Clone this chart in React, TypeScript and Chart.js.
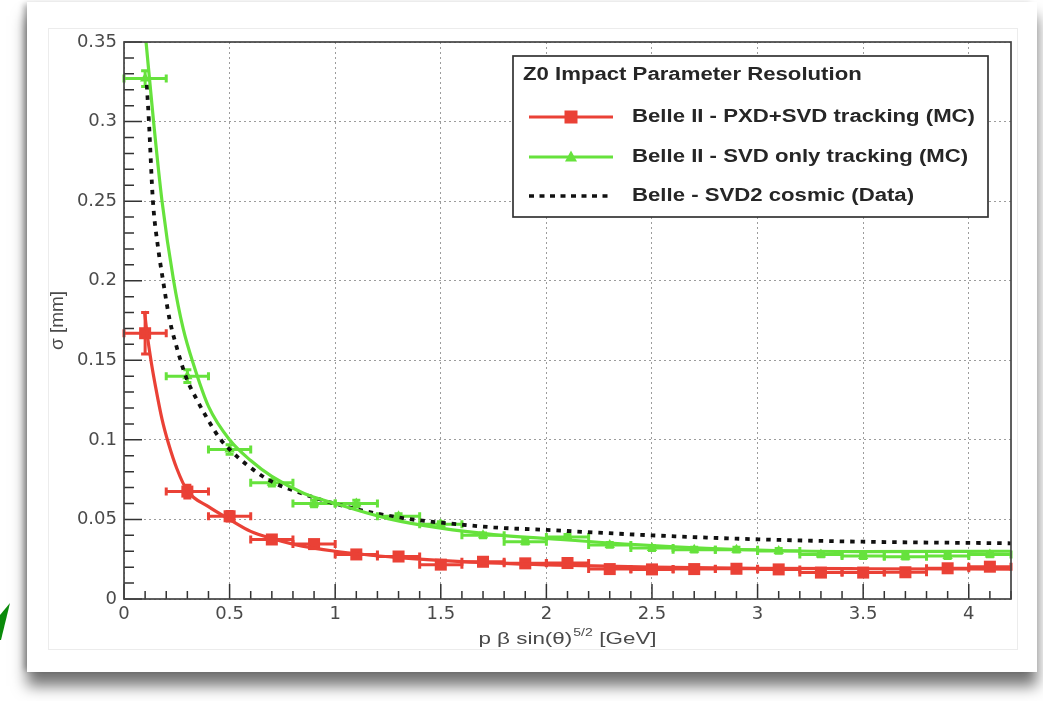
import React, { useEffect, useRef } from "react";
import { Chart, registerables } from "chart.js";

Chart.register(...registerables);

// ---------- data ----------
const binCenters = [0.1, 0.3, 0.5, 0.7, 0.9, 1.1, 1.3, 1.5, 1.7, 1.9, 2.1, 2.3, 2.5, 2.7, 2.9, 3.1, 3.3, 3.5, 3.7, 3.9, 4.1];
const binHalfWidths = [0.1, 0.1, 0.1, 0.1, 0.1, 0.1, 0.1, 0.1, 0.1, 0.1, 0.1, 0.1, 0.1, 0.1, 0.1, 0.1, 0.1, 0.1, 0.1, 0.1, 0.1];

const pxdSvdSigma = [0.167, 0.0675, 0.052, 0.0374, 0.0345, 0.028, 0.0267, 0.0216, 0.0234, 0.0224, 0.0226, 0.0188, 0.0186, 0.0188, 0.019, 0.0186, 0.0166, 0.0166, 0.0168, 0.0193, 0.0203];
const pxdSvdErr = [0.013, 0.004, 0.003, 0.002, 0.002, 0.0015, 0.0015, 0.0015, 0.0015, 0.0015, 0.0015, 0.0015, 0.0015, 0.0015, 0.0015, 0.0015, 0.0015, 0.0015, 0.0015, 0.0015, 0.0015];

const svdOnlySigma = [0.327, 0.14, 0.094, 0.073, 0.06, 0.06, 0.052, 0.047, 0.04, 0.036, 0.039, 0.034, 0.032, 0.031, 0.031, 0.0302, 0.028, 0.027, 0.0266, 0.027, 0.028];
const svdOnlyErr = [0.005, 0.004, 0.003, 0.002, 0.002, 0.002, 0.0015, 0.0015, 0.0015, 0.0015, 0.0015, 0.0015, 0.0015, 0.0015, 0.0015, 0.0015, 0.0015, 0.0015, 0.0015, 0.0015, 0.0015];

const pxdFitX = [0.097, 0.11, 0.13, 0.15, 0.18, 0.21, 0.25, 0.3, 0.4, 0.5, 0.6, 0.7, 0.8, 1.0, 1.3, 1.6, 2.0, 2.5, 3.0, 3.5, 4.2];
const pxdFitY = [0.181, 0.166, 0.148, 0.133, 0.113, 0.098, 0.082, 0.068, 0.058, 0.05, 0.0425, 0.038, 0.0345, 0.03, 0.026, 0.0235, 0.0215, 0.02, 0.0193, 0.019, 0.0188];

const svdFitX = [0.103, 0.14, 0.18, 0.235, 0.28, 0.33, 0.4, 0.5, 0.6, 0.7, 0.85, 1.0, 1.25, 1.5, 1.75, 2.0, 2.5, 3.0, 3.5, 4.2];
const svdFitY = [0.352, 0.3, 0.25, 0.2, 0.17, 0.147, 0.121, 0.1, 0.087, 0.077, 0.0665, 0.06, 0.0505, 0.0445, 0.0405, 0.038, 0.0336, 0.0308, 0.0298, 0.03];

const belleX = [0.108, 0.118, 0.137, 0.16, 0.184, 0.216, 0.25, 0.295, 0.35, 0.405, 0.45, 0.5, 0.58, 0.689, 0.85, 0.99, 1.15, 1.32, 1.5, 1.75, 2.0, 2.5, 3.0, 3.5, 4.2];
const belleY = [0.323, 0.3, 0.25, 0.222, 0.2008, 0.1756, 0.158, 0.139, 0.124, 0.111, 0.1015, 0.094, 0.0845, 0.0745, 0.066, 0.0602, 0.055, 0.0508, 0.048, 0.045, 0.0434, 0.04, 0.0375, 0.036, 0.035];

const xTickValues = [0, 0.5, 1, 1.5, 2, 2.5, 3, 3.5, 4];
const xTickLabels = ["0", "0.5", "1", "1.5", "2", "2.5", "3", "3.5", "4"];
const yTickValues = [0, 0.05, 0.1, 0.15, 0.2, 0.25, 0.3, 0.35];
const yTickLabels = ["0", "0.05", "0.1", "0.15", "0.2", "0.25", "0.3", "0.35"];

const legendTitle = "Z0 Impact Parameter Resolution";
const seriesNames = [
  "Belle II - PXD+SVD tracking (MC)",
  "Belle II - SVD only tracking (MC)",
  "Belle - SVD2 cosmic (Data)",
];
const yTitle = "σ [mm]";
const xTitleMain = "p β sin(θ)";
const xTitleSup = "5/2";
const xTitleTail = " [GeV]";

const X_MIN = 0, X_MAX = 4.2, Y_MIN = 0, Y_MAX = 0.35;

// ---------- styles ----------
const RED = "#ea4136";
const GREEN = "#66e23c";
const BLACK = "#111111";
const TEXT = "#4a4a4a";

const toPts = (xs: number[], ys: number[]) => xs.map((x, i) => ({ x, y: ys[i] }));

function stretchedText(ctx: CanvasRenderingContext2D, text: string, x: number, y: number, sx: number) {
  ctx.save();
  ctx.translate(x, y);
  ctx.scale(sx, 1);
  ctx.fillText(text, 0, 0);
  ctx.restore();
}

const decorPlugin = {
  id: "rootDecor",
  beforeDatasetsDraw(chart: any) {
    const { ctx } = chart;
    const xs = chart.scales.x, ys = chart.scales.y;
    chart.data.datasets.forEach((ds: any) => {
      if (!ds.errY) return;
      ctx.save();
      ctx.strokeStyle = ds.borderColor;
      ctx.lineWidth = 3;
      ds.data.forEach((p: any, i: number) => {
        const cx = xs.getPixelForValue(p.x);
        const cy = ys.getPixelForValue(p.y);
        const x1 = xs.getPixelForValue(p.x - ds.errX[i]);
        const x2 = xs.getPixelForValue(p.x + ds.errX[i]);
        const y1 = ys.getPixelForValue(p.y + ds.errY[i]);
        const y2 = ys.getPixelForValue(p.y - ds.errY[i]);
        ctx.beginPath();
        ctx.moveTo(x1, cy); ctx.lineTo(x2, cy);
        ctx.moveTo(x1, cy - 4); ctx.lineTo(x1, cy + 4);
        ctx.moveTo(x2, cy - 4); ctx.lineTo(x2, cy + 4);
        ctx.moveTo(cx, y1); ctx.lineTo(cx, y2);
        ctx.moveTo(cx - 4, y1); ctx.lineTo(cx + 4, y1);
        ctx.moveTo(cx - 4, y2); ctx.lineTo(cx + 4, y2);
        ctx.stroke();
      });
      ctx.restore();
    });
  },
  afterDraw(chart: any) {
    const { ctx, chartArea: ca } = chart;
    const xs = chart.scales.x, ys = chart.scales.y;
    ctx.save();
    // inward ticks
    ctx.strokeStyle = "#333";
    ctx.lineWidth = 1.5;
    ctx.beginPath();
    for (let k = 0; k <= Math.round((X_MAX - X_MIN) / 0.1); k++) {
      const v = X_MIN + k * 0.1;
      const px = xs.getPixelForValue(v);
      const major = k % 5 === 0;
      ctx.moveTo(px, ca.bottom);
      ctx.lineTo(px, ca.bottom - (major ? 15 : 8));
    }
    for (let k = 0; k <= Math.round((Y_MAX - Y_MIN) / 0.01); k++) {
      const v = Y_MIN + k * 0.01;
      const py = ys.getPixelForValue(v);
      const major = k % 5 === 0;
      ctx.moveTo(ca.left, py);
      ctx.lineTo(ca.left + (major ? 18 : 10), py);
    }
    ctx.stroke();
    // frame
    ctx.strokeStyle = "#444";
    ctx.lineWidth = 1.7;
    ctx.strokeRect(ca.left, ca.top, ca.right - ca.left, ca.bottom - ca.top);

    // x-axis title with superscript
    ctx.fillStyle = TEXT;
    ctx.textBaseline = "middle";
    ctx.textAlign = "left";
    const sx = 1.4;
    ctx.font = '16px "Liberation Sans", Arial, sans-serif';
    const w1 = ctx.measureText(xTitleMain).width;
    const w3 = ctx.measureText(xTitleTail).width;
    ctx.font = '10px "Liberation Sans", Arial, sans-serif';
    const w2 = ctx.measureText(xTitleSup).width + 1;
    const total = (w1 + w2 + w3) * sx;
    const cx = (ca.left + ca.right) / 2;
    const ty = ca.bottom + 41;
    let tx = cx - total / 2;
    ctx.font = '16px "Liberation Sans", Arial, sans-serif';
    stretchedText(ctx, xTitleMain, tx, ty, sx);
    tx += w1 * sx;
    ctx.font = '10px "Liberation Sans", Arial, sans-serif';
    stretchedText(ctx, xTitleSup, tx + 1, ty - 7, sx);
    tx += w2 * sx;
    ctx.font = '16px "Liberation Sans", Arial, sans-serif';
    stretchedText(ctx, xTitleTail, tx, ty, sx);

    // legend box
    const L = ca.left + 389, T = ca.top + 14, W = 475, H = 161;
    ctx.fillStyle = "#fff";
    ctx.fillRect(L, T, W, H);
    ctx.strokeStyle = "#333";
    ctx.lineWidth = 1.7;
    ctx.strokeRect(L, T, W, H);

    ctx.font = 'bold 18px "Liberation Sans", Arial, sans-serif';
    ctx.fillStyle = "#262626";
    const lsx = 343 / ctx.measureText(seriesNames[0]).width;
    stretchedText(ctx, legendTitle, L + 10, T + 19, lsx);
    const rowY = [T + 61, T + 101, T + 140];
    seriesNames.forEach((name, i) => stretchedText(ctx, name, L + 119, rowY[i], lsx));

    const s1 = L + 16, s2 = L + 100, sc = L + 58;
    // red sample
    ctx.lineWidth = 3.2;
    ctx.strokeStyle = RED;
    ctx.beginPath(); ctx.moveTo(s1, rowY[0]); ctx.lineTo(s2, rowY[0]); ctx.stroke();
    ctx.fillStyle = RED;
    ctx.fillRect(sc - 6.5, rowY[0] - 6.5, 13, 13);
    // green sample
    ctx.strokeStyle = GREEN;
    ctx.beginPath(); ctx.moveTo(s1, rowY[1]); ctx.lineTo(s2, rowY[1]); ctx.stroke();
    ctx.fillStyle = GREEN;
    ctx.beginPath();
    ctx.moveTo(sc, rowY[1] - 6.5); ctx.lineTo(sc + 6, rowY[1] + 4.5); ctx.lineTo(sc - 6, rowY[1] + 4.5);
    ctx.closePath(); ctx.fill();
    // black dotted sample
    ctx.strokeStyle = BLACK;
    ctx.lineWidth = 3.5;
    ctx.setLineDash([5, 5.5]);
    ctx.beginPath(); ctx.moveTo(s1, rowY[2]); ctx.lineTo(s2, rowY[2]); ctx.stroke();
    ctx.setLineDash([]);
    ctx.restore();
  },
};

export default function App() {
  const ref = useRef<HTMLCanvasElement | null>(null);

  useEffect(() => {
    if (!ref.current) return;
    const tickFont = { family: '"DejaVu Sans", "Liberation Sans", sans-serif', size: 18 };
    const chart = new Chart(ref.current, {
      type: "scatter",
      data: {
        datasets: [
          {
            label: seriesNames[0] + " fit",
            data: toPts(pxdFitX, pxdFitY),
            showLine: true,
            borderColor: RED,
            borderWidth: 3.2,
            pointRadius: 0,
            cubicInterpolationMode: "monotone",
          },
          {
            label: seriesNames[1] + " fit",
            data: toPts(svdFitX, svdFitY),
            showLine: true,
            borderColor: GREEN,
            borderWidth: 3.2,
            pointRadius: 0,
            cubicInterpolationMode: "monotone",
          },
          {
            label: seriesNames[2],
            data: toPts(belleX, belleY),
            showLine: true,
            borderColor: BLACK,
            borderWidth: 3.8,
            borderDash: [4.5, 6],
            pointRadius: 0,
            cubicInterpolationMode: "monotone",
          },
          {
            label: seriesNames[0],
            data: toPts(binCenters, pxdSvdSigma),
            showLine: false,
            pointStyle: "rect",
            pointRadius: 8.5,
            backgroundColor: RED,
            borderColor: RED,
            borderWidth: 0,
            errX: binHalfWidths,
            errY: pxdSvdErr,
          } as any,
          {
            label: seriesNames[1],
            data: toPts(binCenters, svdOnlySigma),
            showLine: false,
            pointStyle: "triangle",
            pointRadius: 6,
            backgroundColor: GREEN,
            borderColor: GREEN,
            borderWidth: 0,
            errX: binHalfWidths,
            errY: svdOnlyErr,
          } as any,
        ],
      },
      options: {
        animation: false,
        responsive: true,
        maintainAspectRatio: false,
        layout: { padding: { left: 42, top: 42, right: 32, bottom: 42 } },
        plugins: { legend: { display: false }, tooltip: { enabled: false } },
        scales: {
          x: {
            type: "linear",
            min: X_MIN,
            max: X_MAX,
            afterBuildTicks: (s: any) => { s.ticks = xTickValues.map((v) => ({ value: v })); },
            afterFit: (s: any) => { s.height = 60; },
            ticks: {
              callback: (_v: any, i: number) => xTickLabels[i],
              font: tickFont,
              color: TEXT,
              padding: 5,
              maxRotation: 0,
              autoSkip: false,
            },
            grid: { color: "rgba(90,90,90,0.6)", lineWidth: 1, drawTicks: false },
            border: { display: false, dash: [2, 3] },
          },
          y: {
            type: "linear",
            min: Y_MIN,
            max: Y_MAX,
            afterBuildTicks: (s: any) => { s.ticks = yTickValues.map((v) => ({ value: v })); },
            afterFit: (s: any) => { s.width = 82; },
            ticks: {
              callback: (_v: any, i: number) => yTickLabels[i],
              font: tickFont,
              color: TEXT,
              padding: 7,
              autoSkip: false,
            },
            grid: { color: "rgba(90,90,90,0.6)", lineWidth: 1, drawTicks: false },
            border: { display: false, dash: [2, 3] },
            title: {
              display: true,
              text: yTitle,
              color: TEXT,
              font: { family: '"Liberation Sans", Arial, sans-serif', size: 19 },
              padding: { top: 4, bottom: 4 },
            },
          },
        },
      } as any,
      plugins: [decorPlugin as any],
    });
    return () => chart.destroy();
  }, []);

  return (
    <div style={{ position: "fixed", left: 0, top: 0, width: 1043, height: 701, background: "#fff", overflow: "hidden" }}>
      <div
        style={{
          position: "absolute",
          left: 27,
          top: 2,
          width: 1010,
          height: 670,
          background: "#fff",
          boxShadow: "0 14px 14px rgba(0,0,0,0.55), -5px 0 6px -2px rgba(0,0,0,0.3)",
        }}
      />
      <div
        style={{
          position: "absolute",
          left: 48,
          top: 28,
          width: 970,
          height: 622,
          border: "1px solid #ececec",
          boxSizing: "border-box",
        }}
      />
      <div
        style={{
          position: "absolute",
          left: 0,
          top: 600,
          width: 12,
          height: 42,
          background: "#0a8a0a",
          clipPath: "polygon(0px 15px, 10px 3px, 1px 40px, 0px 40px)",
        }}
      />
      <div style={{ position: "absolute", left: 0, top: 0, width: 1043, height: 701 }}>
        <canvas ref={ref} />
      </div>
    </div>
  );
}
